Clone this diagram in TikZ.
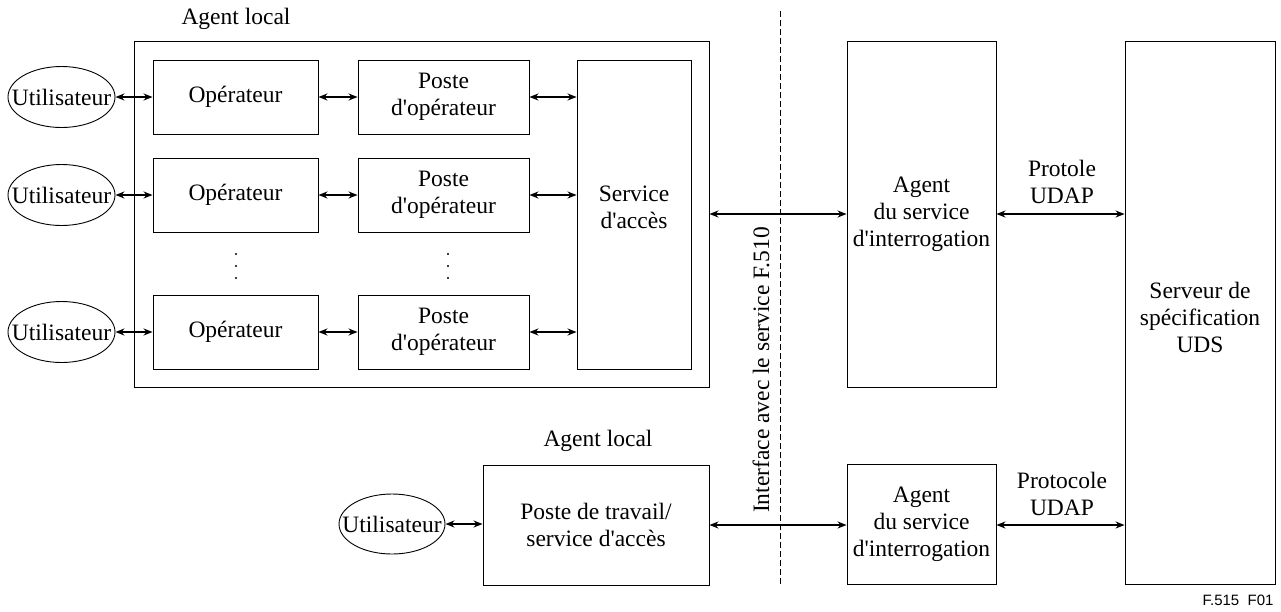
\documentclass[tikz,border=0pt]{standalone}
\usepackage{fontspec}
\setmainfont{Liberation Serif}
\newfontfamily\lsans{Liberation Sans}
\usetikzlibrary{arrows.meta,shapes.geometric}
\newcommand\aq{\textquotesingle}
\begin{document}
\begin{tikzpicture}[x=1pt,y=-1pt,
  every node/.style={font=\fontsize{23.5}{27}\selectfont, inner sep=0pt, align=center},
  box/.style={draw, line width=0.9pt},
  user/.style={draw, ellipse, line width=0.9pt, minimum width=107pt, minimum height=61pt},
  link/.style={line width=1.6pt, {Stealth[length=9pt,width=7pt]}-{Stealth[length=9pt,width=7pt]}},
  dotstyle/.style={fill, circle, minimum size=2.2pt}
]
\useasboundingbox (0,0) rectangle (1281,611);
% outer agent local
\node[box, minimum width=575pt, minimum height=346pt] (outer) at (421.5,214) {};
\node (lab1) at (236,19) {Agent local};
% rows
\foreach \r/\y in {1/97,2/195,3/332}{
  \node[box, minimum width=165pt, minimum height=74pt] (op\r) at (235.5,\y) {Opérateur};
  \node[box, minimum width=171pt, minimum height=74pt] (po\r) at (443.5,\y) {Poste\\d\aq opérateur};
  \node[user] (u\r) at (61.5,\y) {};
  \node (ut\r) at (61.5,\y) {Utilisateur};
}
\node[box, minimum width=114pt, minimum height=309pt] (svc) at (634,214.5) {};
\node (svct) at (634,207) {Service\\d\aq accès};
\foreach \r/\y in {1/97,2/195,3/332}{
  \draw[link] (u\r.east) -- (op\r.west);
  \draw[link] (op\r.east) -- (po\r.west);
  \draw[link] (po\r.east) -- (po\r.east -| svc.west);
}
% dots
\foreach \x in {236,448}{
  \node[dotstyle] (d1\x) at (\x,254) {};
  \node[dotstyle] (d2\x) at (\x,266) {};
  \node[dotstyle] (d3\x) at (\x,278) {};
}
% interface line
\coordinate (dtop) at (780.5,11);
\coordinate (dbot) at (780.5,585);
\draw[line width=1.8pt, dash pattern=on 6pt off 3pt] (dtop) -- (dbot);
\node[rotate=90] (iface) at (761,370) {Interface avec le service F.510};
% agents
\node[box, minimum width=149pt, minimum height=346pt] (ag1) at (921.5,214) {Agent\\du service\\d\aq interrogation};
\node[box, minimum width=149pt, minimum height=120pt] (ag2) at (921.5,524.5) {Agent\\du service\\d\aq interrogation};
\node[box, minimum width=150pt, minimum height=543pt] (srv) at (1200,312.5) {};
\node (srvt) at (1200,317) {Serveur de\\spécification\\UDS};
\draw[link] (outer.east) -- (ag1.west);
\draw[link] (ag1.east) -- (ag1.east -| srv.west);
\node (p1) at (1062,182) {Protole\\UDAP};
% bottom agent local
\node (lab2) at (598,441) {Agent local};
\node[box, minimum width=226pt, minimum height=120pt] (pt) at (596,525) {Poste de travail/\\service d\aq accès};
\node[user, minimum width=106pt, minimum height=60pt] (u4) at (392,524) {};
\node (ut4) at (392,524) {Utilisateur};
\draw[link] (u4.east) -- (u4.east -| pt.west);
\draw[link] (pt.east) -- (pt.east -| ag2.west);
\draw[link] (pt.east -| ag2.east) -- (pt.east -| srv.west);
\node (p2) at (1062,494) {Protocole\\UDAP};
\node[font=\lsans\fontsize{15}{18}\selectfont] (fig) at (1238,600) {F.515\ \ F01};
\end{tikzpicture}
\end{document}
